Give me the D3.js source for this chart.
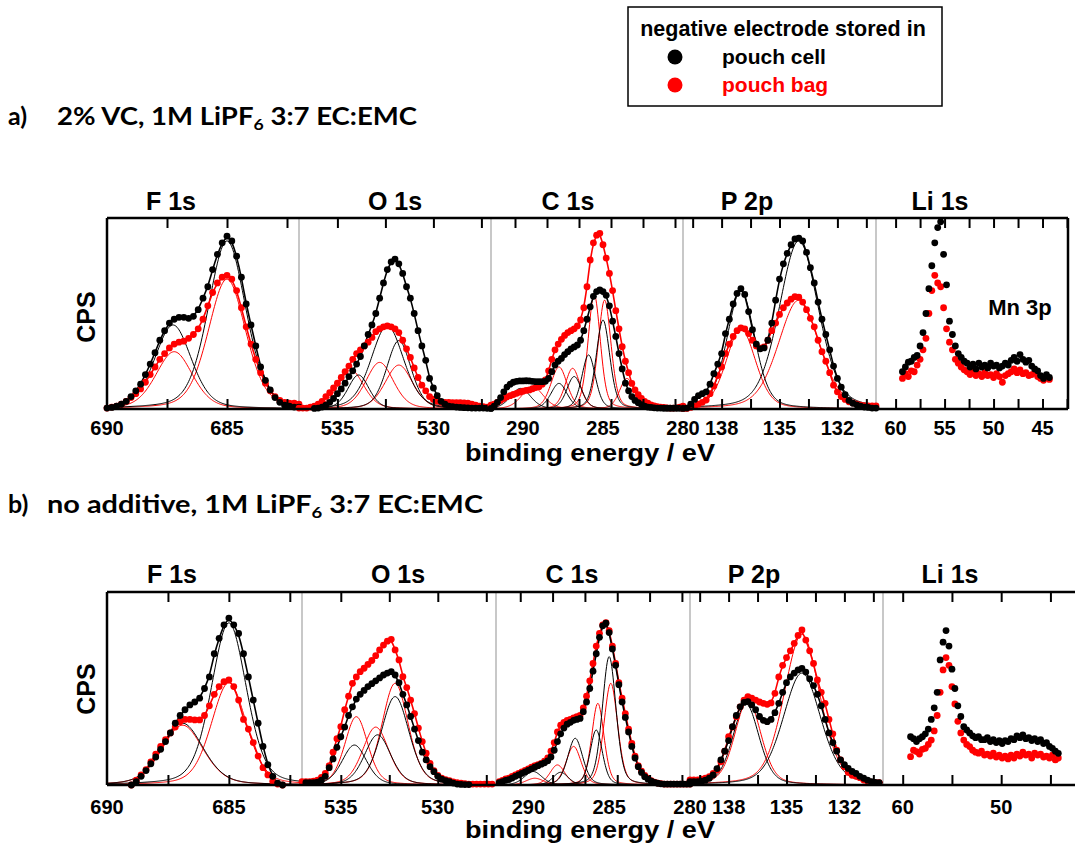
<!DOCTYPE html>
<html><head><meta charset="utf-8">
<script src="https://cdn.jsdelivr.net/npm/d3@7"></script>
<style>
html,body{margin:0;padding:0;background:#fff;}
svg text{font-family:"Liberation Sans",Arial,sans-serif;font-weight:bold;fill:#000;}
svg text.hdr{font-family:Lato,"Open Sans",sans-serif;font-weight:700;}
</style></head><body>
<svg id="chart" width="1075" height="847"></svg>
<script>
// ---- core levels and axis settings ----
const regionNames = ["F 1s", "O 1s", "C 1s", "P 2p", "Li 1s"];
const windowsA = [[690, 682], [537, 527], [292, 280], [140, 130], [62, 42.4]];
const windowsB = [[690, 682], [537, 527], [292, 280], [140, 130], [62, 42.2]];
const tickVals = [[687.5, 685, 682.5], [535, 532.5, 530, 527.5], [290.5, 288.5, 286.5, 284.5, 282.5, 280.5],
                  [139.5, 138, 136.5, 135, 133.5, 132, 130.5], [60, 57.5, 55, 52.5, 50, 47.5, 45, 42.5]];
const tickValsLiB = [60, 55, 50, 45];
const tickLabels = [[690, 685], [535, 530], [290, 285, 280], [138, 135, 132], [60, 55, 50, 45]];
const tickLabelsLiB = [60, 50];
const stepEV = [0.2, 0.2, 0.2, 0.2, 0.3];
const lorentzFraction = 0.3;

// ---- (a) 2% VC: first binding energy of each scan ----
const a_cellStart = [690, 536.2, 292, 140, 59.3];
const a_bagStart  = [690, 537, 292, 140, 59.3];

const a_F_cell = [0.5,0.8,1.5,2.5,4,6.5,9.5,13,18,23.5, 29.5,36,41,45,47,48,48,47.5,48.5,52, 58,64,73,81,87,90.5,88,80,69,55, 44,33,22,15,10,6,3.5,2,1.5,1, 1];
const a_F_bag  = [0.5,1,1.5,2.5,4,6,8,10.5,14,18, 22,26,29,32,34,35,35.5,37,39,42, 47,54,61,66,69,70,68,62,53,43, 34,26,19,13.5,9.5,6.5,4.5,3.5,3,3, 2.5];
const a_O_cell = [0.3,0.5,1,2,3.5,5.5,8,10.5,13.5,17, 20,23.5,27.5,33,39,44,50,58,66,73, 77,78.5,76,71,64,58,50,41,33,25.5, 16,11,7,4,2.5,1.5,1.2,1,0.8,0.7, 0.6,0.5,0.5,0.5,0.5,0.4,0.4];
const a_O_bag  = [0.5,0.5,0.5,1,1.5,2.5,4,6.5,8.5,11, 13.5,16.5,19.5,22.5,26,29,31,33,35,37.5, 40.5,42,43,43.5,43,42,40,36,31.5,27, 21.5,16.5,12.5,9.5,6.5,5,4,3.5,3.5,3.5, 3.3,3.3,3.3,3.2,3,2.5,2,1.5,1.2,1, 1];
const a_C_cell = [0.3,1.5,3.5,6,9,11.5,13,14,14.5,14.7, 14.7,14.8,14.7,14.5,14.3,14.3,14.3,14.5,16,19.5, 23,25,26.5,28.5,30,31.5,32.5,33.5,36,41, 47,53.5,59,61.5,62.3,61.5,59.5,54,46,38, 29,21,13.5,9.5,6.5,4.5,3.3,2.3,1.5,1, 0.8,0.6,0.5,0.5,0.4,0.4,0.4,0.4,0.4,0.4, 0.5];
const a_C_bag  = [2,2.5,3.5,4.5,5.5,6.3,7,7.6,8.2,8.8, 9.3,9.7,10,10.6,11.2,11.7,13,15.2,20,26, 31,34,36.5,38.5,40,41,42,43.5,46.6,53, 64,78,87,91,92,86,79,71,62,51.5, 42,32.6,25,19,13.4,10,7.5,5.5,4,3, 2.2,1.6,1.2,1,0.8,0.6,0.5,0.5,0.6,1, 1.5];
const a_P_cell = [0.3,0.5,2.5,5,7,8,9,13,18.5,23.5, 29,39.5,47,55,60.5,63,60,51,41.5,34, 31.5,32,36,45,57,68,76,81.5,86,89, 89.5,88,82,74,66,56,47,39,31,22.5, 16,11.5,7.5,4.5,3,2.2,1.5,1,0.8,0.5, 0.5];
const a_P_bag  = [0.3,0.3,0.8,1.5,2.6,3.5,4.7,8,12,17.5, 22,29,34,38,41,42.5,42,39.5,36,33, 31.8,32.5,36,41,45,49.5,53,55.5,57.5,58.8, 58.5,56,52,47.5,43,36,30,25,19,12.5, 9,6.5,5,3.8,3.2,2.6,2,1.8,1.6,1.6, 1.6];
const a_Li_cell = [19.5,22,24.5,25,27,28,33,40,50,63, 75,87,95,98,81,65,46,39,33,29, 27,25,24,22,23.5,21,24,22,23,21.5, 24,22.5,23,21.5,22.5,24,23,25.5,27,25, 28.5,26,24.5,25.5,22.5,21,20,17.5,16,18, 16.5];
const a_Li_bag  = [16,18.5,17,20,19.5,23,26,31,37,50, 62,70,66,64,53,42,35,31,26,24, 22,20.5,19.5,18,19.5,17.5,18.5,17,19,17.5, 18,16.5,18.5,17,14,17.5,18.5,19.5,21,19, 20.5,18.5,19,17.5,18,19,17,16,15,16.5, 15.5];

// fitted components: [centre eV, height, FWHM eV]
const a_F_cellPeaks = [[687.25, 44, 1.8], [685.0, 88, 1.85]];
const a_F_bagPeaks  = [[687.2, 30, 1.8], [685.0, 68, 1.85]];
const a_O_cellPeaks = [[533.9, 17.8, 1.3], [532.4, 43.6, 2.0], [531.8, 35.8, 1.5]];
const a_O_bagPeaks  = [[534.3, 20.4, 1.6], [532.8, 24.4, 1.7], [531.8, 23, 1.7]];
const a_C_cellPeaks = [[290.15, 10.8, 1.5], [287.75, 13.4, 1.2], [286.8, 17, 1.1], [285.9, 28.3, 1.0], [285.0, 46.6, 1.0]];
const a_C_bagPeaks  = [[289.4, 11.7, 1.6], [287.75, 22, 1.2], [286.9, 21.3, 1.1], [285.55, 60, 0.9], [284.9, 57, 0.95], [283.5, 16, 1.1]];
const a_P_cellPeaks = [[137.0, 62, 1.7], [134.0, 88, 2.4]];
const a_P_bagPeaks  = [[137.0, 42, 1.8], [134.0, 57, 2.5]];

// ---- (b) no additive ----
const b_cellStart = [689, 536.8, 291.8, 140, 59.2];
const b_bagStart  = [689, 537, 291.8, 140, 59.2];

const b_F_cell = [0,1.7,4.5,7.5,11,14.5,18.5,22.5,27,32, 36,39,41.5,43,45,50,56,68,76,83, 86.5,83,78.5,68,56,44,32,20,10.5,4.5, 1,0];
const b_F_bag  = [0,2.5,5.2,8,12,16,20,23.5,27,30, 32.8,34,34,33.7,33.7,36,41,47,51,53.5, 54.4,51,44,34,29,22,15,9,5.2,2, 0.5,0];
const b_O_cell = [1.2,1.2,1.2,1.5,2.5,4.5,9,13.5,19.5,25, 30,36,40.5,44.5,47,49,51,52.5,54,55.5, 57,58,58.7,57,53,47,41.5,35.5,29,23, 17,13,9.5,6.9,4.5,3,2.2,1.7,1,0.5, 0.3,0.2,0.2];
const b_O_bag  = [1.7,1.7,1.7,2,2.5,4,6,10,17,24, 30.2,39,46,52.7,56,58.7,60.5,62.5,64.5,67, 70,72.5,74.5,75.5,70,64.8,56.1,50.5,44,37, 29.5,22.5,16.5,11.2,7.5,5,3.5,2.8,2.2,1.6, 1.2,0.9,0.7,0.5,0.5,0.5,0.5,0.5,0.5,0.5];
const b_C_cell = [1.2,1.8,2.4,2.8,3.6,4.5,5.2,6,6.8,7.6, 8.4,9.2,10,10.8,11.5,12.5,14.5,18,22.5,26.5, 29.5,31.5,32.5,33.5,34,34.5,38,43,50,59, 68,76.5,82.5,83.8,79,70.5,62,52,43,35, 27.5,20,14,9.5,6.5,4.3,3,2,1.3,0.9, 0.6,0.5,0.5,0.5,0.5,0.5,0.5,0.5,0.5,0.5];
const b_C_bag  = [1.7,2.4,3.2,3.6,4.4,5.2,6,6.8,7.6,8.4, 9.2,10,10.6,11.2,12.3,14,17.5,22,27.5,31, 32.5,33.5,34,34.8,35.4,36,40,46,54,63, 72,78.6,83,84.1,80,72,63,53,45,37, 29,21.5,15,10,7.2,5,3.5,2.3,1.5,1, 0.7,0.5,0.5,0.5,0.5,0.5,0.5,0.5,0.5,0.5];
const b_P_cell = [1.7,1.7,1.7,2,2.5,3.5,5.2,8.5,13,17.5, 23,30.2,36,40.5,42.8,43.2,41.5,39,35.5,33.5, 32.8,34,37.5,42.3,48,53,56,58,59.6,60.4, 58.5,55,51.5,47,41,34,27,22,17.5,13, 10.5,8.6,7,6,4.5,3.5,2.5,1.7,1.4,1.2];
const b_P_bag  = [2.6,2.6,2.6,3,3.6,4.3,6,7.8,12,17.5, 25,30,35.4,40.5,44,45.8,45,44,43,42.3, 41.8,42.5,47.5,56,62,66,69.5,73.4,77.5,80.3, 75.1,69.5,63,54.4,48,42.3,34,26.5,18.1,13, 9.5,6.5,5,4.5,3.8,2.6,2,1.5,1.2,1.2];
const b_Li_cell = [25,24,22.5,24,25,26.5,29,34,40,48, 64.8,74,80,72,60,50,41,35.5,30.2,28.5, 27,25.5,24.5,25,23.5,23.5,24.5,22.5,23.5,22, 23,21.5,23,22.5,24,23.5,25.5,24.5,26,24, 24.5,23,24,22.5,23.5,21.5,22,20,19,17.5, 16.4];
const b_Li_bag  = [14.7,18,17.3,16,18.5,19,21,23.3,28,36, 48,59.6,66,62,51,42,33,27,23.3,21, 19.9,18,17,16.5,17.5,15.5,16,15,16.5,14.5, 15.5,14,15,13.5,15.5,14,16,15,17,15.5, 16,14,16.5,15.5,16,14.5,15,14,15.5,13, 14];

const b_F_cellPeaks = [[686.9, 32, 2.0], [685.0, 84, 1.7]];
const b_F_bagPeaks  = [[686.9, 31, 2.0], [685.0, 53, 1.7]];
const b_O_cellPeaks = [[534.3, 20.7, 1.5], [533.1, 26, 1.6], [532.2, 45.8, 1.7]];
const b_O_bagPeaks  = [[534.2, 35.4, 1.4], [533.2, 30, 1.6], [532.2, 52.7, 1.6]];
const b_C_cellPeaks = [[289.7, 7, 1.3], [288.0, 6.6, 1.1], [287.1, 24.2, 1.1], [285.8, 28.5, 0.9], [285.0, 66.5, 1.0]];
const b_C_bagPeaks  = [[289.6, 3.5, 1.3], [288.2, 10.4, 1.1], [287.2, 20, 1.1], [285.7, 42.3, 0.9], [284.9, 52.7, 1.0]];
const b_P_cellPeaks = [[137.1, 42, 1.6], [134.2, 58, 2.3]];
const b_P_bagPeaks  = [[137.0, 44, 1.6], [134.2, 78, 2.2]];

const seriesColors = {cell: "#000000", bag: "#ff0000"};
const legendLabels = ["pouch cell", "pouch bag"];

// ---------------------------------------------------------------
const svg = d3.select("#chart");

function glPeak(e, p) {
  const dx = e - p[0], f2 = p[2] * p[2];
  return p[1] * ((1 - lorentzFraction) * Math.exp(-4 * Math.LN2 * dx * dx / f2) +
                 lorentzFraction / (1 + 4 * dx * dx / f2));
}

function toPoints(start, step, vals) {
  return vals.map((v, i) => [start - i * step, v]);
}

function drawRow(cfg) {
  const g = svg.append("g");
  const y = d3.scaleLinear().domain([0, 100]).range([cfg.bottom, cfg.top]);
  const xs = cfg.windows.map((w, i) => d3.scaleLinear().domain(w).range([cfg.edges[i], cfg.edges[i + 1]]));

  // light separators between core levels
  cfg.edges.slice(1, 5).forEach(ex => {
    g.append("line").attr("x1", ex).attr("x2", ex).attr("y1", cfg.top).attr("y2", cfg.bottom)
      .attr("stroke", "#c8c8c8").attr("stroke-width", 2);
  });

  xs.forEach((x, i) => {
    const pg = g.append("g");
    const cell = toPoints(cfg.cellStart[i], stepEV[i], cfg.cell[i]);
    const bag = toPoints(cfg.bagStart[i], stepEV[i], cfg.bag[i]);

    // fitted components
    if (i < 4) {
      const grid = d3.range(cfg.windows[i][0], cfg.windows[i][1] - 0.001, -0.04);
      [["bag", cfg.bagPeaks[i]], ["cell", cfg.cellPeaks[i]]].forEach(([k, peaks]) => {
        peaks.forEach(p => {
          pg.append("path")
            .datum(grid.map(e => [e, glPeak(e, p)]))
            .attr("fill", "none").attr("stroke", seriesColors[k]).attr("stroke-width", 1)
            .attr("d", d3.line().x(d => x(d[0])).y(d => y(d[1])));
        });
      });
      // envelope through each scan
      [["bag", bag], ["cell", cell]].forEach(([k, pts]) => {
        pg.append("path").datum(pts)
          .attr("fill", "none").attr("stroke", seriesColors[k]).attr("stroke-width", 1.6)
          .attr("d", d3.line().x(d => x(d[0])).y(d => y(d[1])).curve(d3.curveBasis));
      });
    }
    // measured points
    [["bag", bag], ["cell", cell]].forEach(([k, pts]) => {
      pg.selectAll(null).data(pts).enter().append("circle")
        .attr("cx", d => x(d[0])).attr("cy", d => y(d[1])).attr("r", 3.4)
        .attr("fill", seriesColors[k]);
    });

    // ticks (inward, top and bottom)
    const tv = (i === 4 && cfg.liTicks) ? cfg.liTicks : tickVals[i];
    const tl = (i === 4 && cfg.liLabels) ? cfg.liLabels : tickLabels[i];
    const bottomAxis = d3.axisBottom(x).tickValues(tv).tickSize(-10).tickFormat("");
    const topAxis = d3.axisTop(x).tickValues(tv).tickSize(-10).tickFormat("");
    const ba = g.append("g").attr("transform", `translate(0,${cfg.bottom})`).call(bottomAxis);
    const ta = g.append("g").attr("transform", `translate(0,${cfg.top})`).call(topAxis);
    [ba, ta].forEach(a => {
      a.select(".domain").remove();
      a.selectAll(".tick line").attr("stroke", "#000").attr("stroke-width", 2);
    });
    g.selectAll(null).data(tl).enter().append("text")
      .attr("x", d => x(d)).attr("y", cfg.labelY).attr("text-anchor", "middle")
      .attr("font-size", 20).text(d => d);

    g.append("text").attr("x", cfg.titleX[i]).attr("y", cfg.titleY)
      .attr("text-anchor", "middle").attr("font-size", 25).text(regionNames[i]);
  });

  // frame
  const xr = cfg.frameRight;
  g.append("line").attr("x1", cfg.edges[0]).attr("x2", xr).attr("y1", cfg.top).attr("y2", cfg.top)
    .attr("stroke", "#000").attr("stroke-width", 2.5);
  g.append("line").attr("x1", cfg.edges[0]).attr("x2", xr).attr("y1", cfg.bottom).attr("y2", cfg.bottom)
    .attr("stroke", "#000").attr("stroke-width", 2.5);
  g.append("line").attr("x1", cfg.edges[0]).attr("x2", cfg.edges[0]).attr("y1", cfg.top).attr("y2", cfg.bottom)
    .attr("stroke", "#000").attr("stroke-width", 2.5);
  if (cfg.rightBorder) {
    g.append("line").attr("x1", xr).attr("x2", xr).attr("y1", cfg.top).attr("y2", cfg.bottom)
      .attr("stroke", "#000").attr("stroke-width", 2.5);
  }

  g.append("text").attr("x", 590).attr("y", cfg.axisTitleY).attr("text-anchor", "middle")
    .attr("font-size", 23).attr("textLength", 250).attr("lengthAdjust", "spacingAndGlyphs")
    .text("binding energy / eV");
  g.append("text").attr("transform", `translate(95,${cfg.cpsY}) rotate(-90)`)
    .attr("text-anchor", "middle").attr("font-size", 25).text("CPS");
}

drawRow({
  top: 218, bottom: 409, edges: [107, 299, 491, 683, 876, 1068], frameRight: 1068, rightBorder: true,
  windows: windowsA, cellStart: a_cellStart, bagStart: a_bagStart,
  cell: [a_F_cell, a_O_cell, a_C_cell, a_P_cell, a_Li_cell],
  bag: [a_F_bag, a_O_bag, a_C_bag, a_P_bag, a_Li_bag],
  cellPeaks: [a_F_cellPeaks, a_O_cellPeaks, a_C_cellPeaks, a_P_cellPeaks],
  bagPeaks: [a_F_bagPeaks, a_O_bagPeaks, a_C_bagPeaks, a_P_bagPeaks],
  titleX: [171, 395, 568, 747, 940], titleY: 210, labelY: 435, axisTitleY: 461, cpsY: 317
});
drawRow({
  top: 592, bottom: 785, edges: [107, 302, 496, 690, 883, 1078], frameRight: 1078, rightBorder: false,
  windows: windowsB, cellStart: b_cellStart, bagStart: b_bagStart,
  cell: [b_F_cell, b_O_cell, b_C_cell, b_P_cell, b_Li_cell],
  bag: [b_F_bag, b_O_bag, b_C_bag, b_P_bag, b_Li_bag],
  cellPeaks: [b_F_cellPeaks, b_O_cellPeaks, b_C_cellPeaks, b_P_cellPeaks],
  bagPeaks: [b_F_bagPeaks, b_O_bagPeaks, b_C_bagPeaks, b_P_bagPeaks],
  liTicks: tickValsLiB, liLabels: tickLabelsLiB,
  titleX: [172, 398, 572, 754, 950], titleY: 583, labelY: 814, axisTitleY: 838, cpsY: 689
});

// Mn 3p note inside the Li 1s window
svg.append("text").attr("x", 1020).attr("y", 315).attr("text-anchor", "middle")
  .attr("font-size", 22).text("Mn 3p");

// row headings
function heading(yb, tag, tagX, restX, before, width) {
  svg.append("text").attr("class", "hdr").attr("x", tagX).attr("y", yb).attr("font-size", 25).text(tag);
  const t = svg.append("text").attr("class", "hdr").attr("x", restX).attr("y", yb).attr("font-size", 25)
    .attr("textLength", width).attr("lengthAdjust", "spacingAndGlyphs");
  t.append("tspan").text(before + "LiPF");
  t.append("tspan").attr("dy", 5).attr("font-size", 16).text("6");
  t.append("tspan").attr("dy", -5).text(" 3:7 EC:EMC");
}
heading(125, "a)", 8, 57, "2% VC, 1M ", 360);
heading(513, "b)", 8, 47, "no additive, 1M ", 436);

// legend
const lg = svg.append("g");
lg.append("rect").attr("x", 628).attr("y", 7).attr("width", 314).attr("height", 99)
  .attr("fill", "#fff").attr("stroke", "#000").attr("stroke-width", 1.5);
lg.append("text").attr("x", 783).attr("y", 36).attr("text-anchor", "middle").attr("font-size", 21.5)
  .text("negative electrode stored in");
legendLabels.forEach((lab, i) => {
  const k = i === 0 ? "cell" : "bag";
  lg.append("circle").attr("cx", 675).attr("cy", 57 + i * 28).attr("r", 7.5).attr("fill", seriesColors[k]);
  lg.append("text").attr("x", 722).attr("y", 64 + i * 28).attr("font-size", 21)
    .style("fill", seriesColors[k]).text(lab);
});
</script>
</body></html>
